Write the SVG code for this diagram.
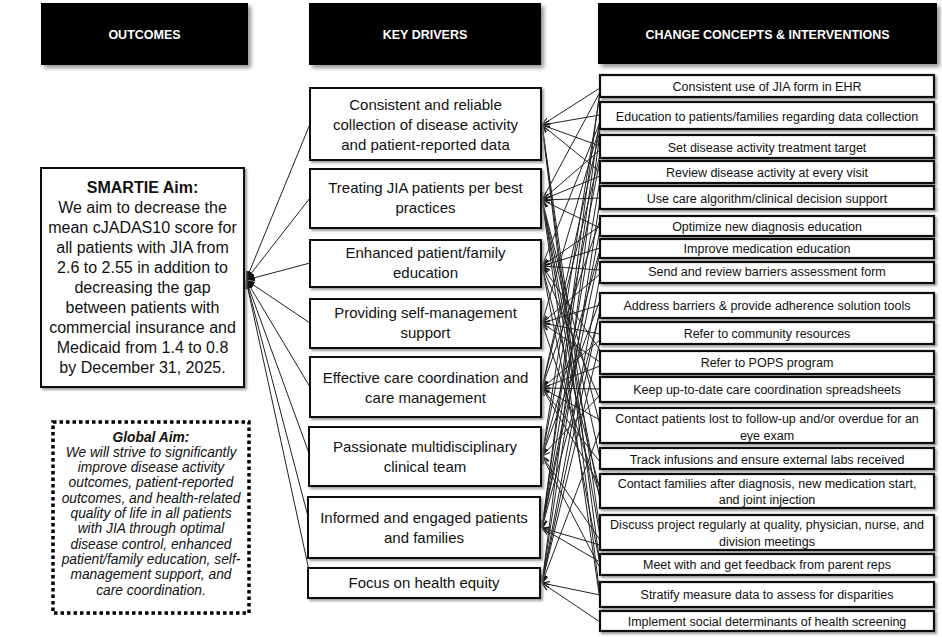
<svg xmlns="http://www.w3.org/2000/svg" width="942" height="637" viewBox="0 0 942 637">
<defs>
<filter id="hs" x="-10%" y="-20%" width="130%" height="150%"><feDropShadow dx="3" dy="3" stdDeviation="2" flood-color="#777" flood-opacity="0.8"/></filter>
<filter id="bs" x="-5%" y="-20%" width="115%" height="160%"><feDropShadow dx="2" dy="2" stdDeviation="1" flood-color="#888" flood-opacity="0.8"/></filter>
<marker id="a" viewBox="0 0 10 10" refX="10" refY="5" markerWidth="8" markerHeight="8" orient="auto" markerUnits="userSpaceOnUse"><path d="M0,1 L10,5 L0,9" fill="none" stroke="#111" stroke-width="1.4"/></marker>
<marker id="b" viewBox="0 0 10 10" refX="10" refY="5" markerWidth="9" markerHeight="9" orient="auto" markerUnits="userSpaceOnUse"><path d="M0,1 L10,5 L0,9 Z" fill="#111"/></marker>
</defs>
<style>
.hdr{fill:#000;filter:url(#hs)}
.ht{fill:#fff;font-family:"Liberation Sans",Arial,sans-serif;font-weight:bold;font-size:12.5px;text-anchor:middle}
.kd{fill:#fff;stroke:#111;stroke-width:2;filter:url(#bs)}
.kt{font-family:"Liberation Sans",Arial,sans-serif;font-size:15px;text-anchor:middle;fill:#111}
.cc{fill:#fff;stroke:#111;stroke-width:2.2;filter:url(#bs)}
.ct{font-family:"Liberation Sans",Arial,sans-serif;font-size:12.5px;text-anchor:middle;fill:#111}
.sm{fill:#fff;stroke:#111;stroke-width:2;filter:url(#bs)}
.st{font-family:"Liberation Sans",Arial,sans-serif;font-size:16px;text-anchor:middle;fill:#111}
.ga{fill:#fff;stroke:#000;stroke-width:3.5;stroke-dasharray:3.5 3}
.gt{font-family:"Liberation Sans",Arial,sans-serif;font-size:13.8px;font-style:italic;text-anchor:middle;fill:#111}
.cn line{stroke:#222;stroke-width:1;marker-end:url(#a)}
.lc line{stroke:#222;stroke-width:1;marker-end:url(#b)}
</style>

<g id="headers">
<rect class="hdr" x="41" y="3" width="207" height="62"/>
<text class="ht" x="144.5" y="38.5">OUTCOMES</text>
<rect class="hdr" x="309" y="3" width="232" height="62"/>
<text class="ht" x="425" y="38.5">KEY DRIVERS</text>
<rect class="hdr" x="598" y="3" width="339" height="61"/>
<text class="ht" x="767.5" y="38.5">CHANGE CONCEPTS &amp; INTERVENTIONS</text>
</g>

<g id="connectors">
<g class="lc">
<line x1="310" y1="124" x2="246" y2="280"/>
<line x1="310" y1="198" x2="246" y2="280"/>
<line x1="310" y1="263" x2="246" y2="280"/>
<line x1="310" y1="323" x2="246" y2="280"/>
<line x1="310" y1="387" x2="246" y2="280"/>
<line x1="310" y1="456" x2="246" y2="280"/>
<line x1="310" y1="524" x2="246" y2="280"/>
<line x1="310" y1="575" x2="246" y2="280"/>
</g>
<g class="cn">
<line x1="600" y1="88" x2="542" y2="125"/>
<line x1="600" y1="115" x2="542" y2="125"/>
<line x1="600" y1="146" x2="542" y2="125"/>
<line x1="600" y1="172" x2="542" y2="125"/>
<line x1="600" y1="530" x2="542" y2="125"/>
<line x1="600" y1="565" x2="542" y2="125"/>
<line x1="600" y1="596" x2="542" y2="125"/>
<line x1="600" y1="92" x2="542" y2="200"/>
<line x1="600" y1="150" x2="542" y2="200"/>
<line x1="600" y1="176" x2="542" y2="200"/>
<line x1="600" y1="198" x2="542" y2="200"/>
<line x1="600" y1="228" x2="542" y2="200"/>
<line x1="600" y1="425" x2="542" y2="200"/>
<line x1="600" y1="458" x2="542" y2="200"/>
<line x1="600" y1="500" x2="542" y2="200"/>
<line x1="600" y1="536" x2="542" y2="200"/>
<line x1="600" y1="600" x2="542" y2="200"/>
<line x1="600" y1="122" x2="542" y2="266"/>
<line x1="600" y1="226" x2="542" y2="266"/>
<line x1="600" y1="248" x2="542" y2="266"/>
<line x1="600" y1="270" x2="542" y2="266"/>
<line x1="600" y1="350" x2="542" y2="266"/>
<line x1="600" y1="400" x2="542" y2="266"/>
<line x1="600" y1="490" x2="542" y2="266"/>
<line x1="600" y1="564" x2="542" y2="266"/>
<line x1="600" y1="126" x2="542" y2="323"/>
<line x1="600" y1="274" x2="542" y2="323"/>
<line x1="600" y1="305" x2="542" y2="323"/>
<line x1="600" y1="334" x2="542" y2="323"/>
<line x1="600" y1="362" x2="542" y2="323"/>
<line x1="600" y1="496" x2="542" y2="323"/>
<line x1="600" y1="130" x2="542" y2="388"/>
<line x1="600" y1="155" x2="542" y2="388"/>
<line x1="600" y1="220" x2="542" y2="388"/>
<line x1="600" y1="340" x2="542" y2="388"/>
<line x1="600" y1="366" x2="542" y2="388"/>
<line x1="600" y1="389" x2="542" y2="388"/>
<line x1="600" y1="420" x2="542" y2="388"/>
<line x1="600" y1="462" x2="542" y2="388"/>
<line x1="600" y1="486" x2="542" y2="388"/>
<line x1="600" y1="94" x2="542" y2="456"/>
<line x1="600" y1="160" x2="542" y2="456"/>
<line x1="600" y1="250" x2="542" y2="456"/>
<line x1="600" y1="300" x2="542" y2="456"/>
<line x1="600" y1="395" x2="542" y2="456"/>
<line x1="600" y1="540" x2="542" y2="456"/>
<line x1="600" y1="568" x2="542" y2="456"/>
<line x1="600" y1="90" x2="542" y2="528"/>
<line x1="600" y1="118" x2="542" y2="528"/>
<line x1="600" y1="180" x2="542" y2="528"/>
<line x1="600" y1="230" x2="542" y2="528"/>
<line x1="600" y1="252" x2="542" y2="528"/>
<line x1="600" y1="312" x2="542" y2="528"/>
<line x1="600" y1="545" x2="542" y2="528"/>
<line x1="600" y1="562" x2="542" y2="528"/>
<line x1="600" y1="132" x2="542" y2="583"/>
<line x1="600" y1="200" x2="542" y2="583"/>
<line x1="600" y1="277" x2="542" y2="583"/>
<line x1="600" y1="310" x2="542" y2="583"/>
<line x1="600" y1="342" x2="542" y2="583"/>
<line x1="600" y1="430" x2="542" y2="583"/>
<line x1="600" y1="595" x2="542" y2="583"/>
<line x1="600" y1="622" x2="542" y2="583"/>
</g>
</g>

<g id="smartie">
<rect class="sm" x="41" y="168" width="203" height="219"/>
<text class="st" x="142.5" y="193" font-weight="bold">SMARTIE Aim:</text>
<text class="st" x="142.5" y="213">We aim to decrease the</text>
<text class="st" x="142.5" y="233">mean cJADAS10 score for</text>
<text class="st" x="142.5" y="253">all patients with JIA from</text>
<text class="st" x="142.5" y="273">2.6 to 2.55 in addition to</text>
<text class="st" x="142.5" y="293">decreasing the gap</text>
<text class="st" x="142.5" y="313">between patients with</text>
<text class="st" x="142.5" y="333">commercial insurance and</text>
<text class="st" x="142.5" y="353">Medicaid from 1.4 to 0.8</text>
<text class="st" x="142.5" y="373">by December 31, 2025.</text>
</g>

<g id="global-aim">
<rect class="ga" x="53" y="422" width="196" height="191"/>
<text class="gt" x="151" y="441.5" font-weight="bold">Global Aim:</text>
<text class="gt" x="151" y="456.8">We will strive to significantly</text>
<text class="gt" x="151" y="472.1">improve disease activity</text>
<text class="gt" x="151" y="487.4">outcomes, patient-reported</text>
<text class="gt" x="151" y="502.7">outcomes, and health-related</text>
<text class="gt" x="151" y="518">quality of life in all patients</text>
<text class="gt" x="151" y="533.3">with JIA through optimal</text>
<text class="gt" x="151" y="548.6">disease control, enhanced</text>
<text class="gt" x="151" y="563.9">patient/family education, self-</text>
<text class="gt" x="151" y="579.2">management support, and</text>
<text class="gt" x="151" y="594.5">care coordination.</text>
</g>

<g id="kd1"><rect class="kd" x="310" y="88" width="231" height="72"/>
<text class="kt" x="425.5" y="110">Consistent and reliable</text>
<text class="kt" x="425.5" y="130">collection of disease activity</text>
<text class="kt" x="425.5" y="150">and patient-reported data</text></g>
<g id="kd2"><rect class="kd" x="310" y="169" width="231" height="59"/>
<text class="kt" x="425.5" y="193">Treating JIA patients per best</text>
<text class="kt" x="425.5" y="213">practices</text></g>
<g id="kd3"><rect class="kd" x="310" y="240" width="231" height="47"/>
<text class="kt" x="425.5" y="258">Enhanced patient/family</text>
<text class="kt" x="425.5" y="278">education</text></g>
<g id="kd4"><rect class="kd" x="310" y="299" width="231" height="49"/>
<text class="kt" x="425.5" y="318">Providing self-management</text>
<text class="kt" x="425.5" y="338">support</text></g>
<g id="kd5"><rect class="kd" x="310" y="357" width="231" height="60"/>
<text class="kt" x="425.5" y="383">Effective care coordination and</text>
<text class="kt" x="425.5" y="403">care management</text></g>
<g id="kd6"><rect class="kd" x="309" y="427" width="232" height="59"/>
<text class="kt" x="425" y="452">Passionate multidisciplinary</text>
<text class="kt" x="425" y="472">clinical team</text></g>
<g id="kd7"><rect class="kd" x="308" y="497" width="232" height="61"/>
<text class="kt" x="424" y="523">Informed and engaged patients</text>
<text class="kt" x="424" y="543">and families</text></g>
<g id="kd8"><rect class="kd" x="308" y="568" width="232" height="30"/>
<text class="kt" x="424" y="588">Focus on health equity</text></g>

<g id="cc1"><rect class="cc" x="600" y="75" width="334" height="22"/><text class="ct" x="767" y="90.5">Consistent use of JIA form in EHR</text></g>
<g id="cc2"><rect class="cc" x="600" y="102" width="334" height="27"/><text class="ct" x="767" y="120.5">Education to patients/families regarding data collection</text></g>
<g id="cc3"><rect class="cc" x="600" y="135" width="334" height="23"/><text class="ct" x="767" y="151.5">Set disease activity treatment target</text></g>
<g id="cc4"><rect class="cc" x="600" y="161" width="334" height="22"/><text class="ct" x="767" y="177">Review disease activity at every visit</text></g>
<g id="cc5"><rect class="cc" x="600" y="186" width="334" height="23"/><text class="ct" x="767" y="202.5">Use care algorithm/clinical decision support</text></g>
<g id="cc6"><rect class="cc" x="600" y="216" width="334" height="20"/><text class="ct" x="767" y="230.5">Optimize new diagnosis education</text></g>
<g id="cc7"><rect class="cc" x="600" y="239" width="334" height="19"/><text class="ct" x="767" y="252.5">Improve medication education</text></g>
<g id="cc8"><rect class="cc" x="600" y="262" width="334" height="21"/><text class="ct" x="767" y="275.5">Send and review barriers assessment form</text></g>
<g id="cc9"><rect class="cc" x="600" y="293" width="334" height="25"/><text class="ct" x="767" y="309.5">Address barriers &amp; provide adherence solution tools</text></g>
<g id="cc10"><rect class="cc" x="600" y="322" width="334" height="22"/><text class="ct" x="767" y="337.5">Refer to community resources</text></g>
<g id="cc11"><rect class="cc" x="600" y="351" width="334" height="23"/><text class="ct" x="767" y="366.5">Refer to POPS program</text></g>
<g id="cc12"><rect class="cc" x="600" y="377" width="334" height="25"/><text class="ct" x="767" y="393.5">Keep up-to-date care coordination spreadsheets</text></g>
<g id="cc13"><rect class="cc" x="600" y="408" width="334" height="35"/><text class="ct" x="767" y="423">Contact patients lost to follow-up and/or overdue for an</text><text class="ct" x="767" y="439.5">eye exam</text></g>
<g id="cc14"><rect class="cc" x="600" y="448" width="334" height="21"/><text class="ct" x="767" y="463.5">Track infusions and ensure external labs received</text></g>
<g id="cc15"><rect class="cc" x="600" y="474" width="334" height="34"/><text class="ct" x="767" y="487.5">Contact families after diagnosis, new medication start,</text><text class="ct" x="767" y="504">and joint injection</text></g>
<g id="cc16"><rect class="cc" x="600" y="515" width="334" height="35"/><text class="ct" x="767" y="529">Discuss project regularly at quality, physician, nurse, and</text><text class="ct" x="767" y="545.5">division meetings</text></g>
<g id="cc17"><rect class="cc" x="600" y="554" width="334" height="21"/><text class="ct" x="767" y="568.5">Meet with and get feedback from parent reps</text></g>
<g id="cc18"><rect class="cc" x="600" y="582" width="334" height="25"/><text class="ct" x="767" y="599">Stratify measure data to assess for disparities</text></g>
<g id="cc19"><rect class="cc" x="600" y="611" width="334" height="20"/><text class="ct" x="767" y="626">Implement social determinants of health screening</text></g>
</svg>
